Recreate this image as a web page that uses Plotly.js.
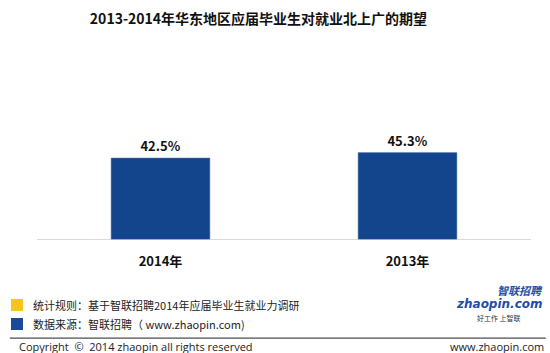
<!DOCTYPE html>
<html><head><meta charset="utf-8">
<script src="https://cdn.plot.ly/plotly-3.0.1.min.js"></script>
<style>html,body{margin:0;padding:0;background:#fff;}#chart{width:550px;height:353px;}</style>
</head><body><div id="chart"></div>
<script>
const categories = ["2014年", "2013年"];
const values = [42.5, 45.3];
const valueLabels = ["42.5%", "45.3%"];
const titleText = "2013-2014年华东地区应届毕业生对就业北上广的期望";
const noteLines = ["统计规则：基于智联招聘2014年应届毕业生就业力调研", "数据来源：智联招聘（ www.zhaopin.com)"];
const noteColors = ["#F5C518", "#1A4A99"];

const font = "'Noto Sans CJK SC', 'Microsoft YaHei', sans-serif";
const trace = {
  type: "bar", x: categories.map(c => "<b>" + c + "</b>"), y: values,
  text: valueLabels.map(t => "<b>" + t + "</b>"), textposition: "outside", cliponaxis: false,
  textfont: {family: font, size: 13, color: "#111"},
  marker: {color: "#12458C", line: {color: "#5b7fb8", width: 0.5}},
  hoverinfo: "none"
};
const shapes = [
  {type:"line", xref:"paper", yref:"y", x0:0, x1:1, y0:0, y1:0, line:{color:"#cccccc", width:1.5}},
  {type:"line", xref:"paper", yref:"paper", x0:-0.055, x1:1.03, y0:-0.545, y1:-0.545, line:{color:"#222", width:1}}
];
const annotations = [];
noteLines.forEach((t, i) => {
  const yy = 305 + i*19;
  shapes.push({type:"rect", xref:"paper", yref:"paper",
    x0:(11-37)/494, x1:(23-37)/494, y0:(240-(yy-6))/180, y1:(240-(yy+6))/180,
    fillcolor: noteColors[i], line:{width:0}});
  annotations.push({xref:"paper", yref:"paper", x:(31-37)/494, y:(240-yy)/180, xanchor:"left", yanchor:"middle",
    text:t, showarrow:false, font:{family:font, size:11, color:"#222"}});
});
annotations.push({xref:"paper", yref:"paper", x:(17-37)/494, y:(240-346)/180, xanchor:"left", yanchor:"middle",
  text:"Copyright  ©  2014 zhaopin all rights reserved", showarrow:false, font:{family:"'Open Sans', sans-serif", size:11, color:"#222"}});
annotations.push({xref:"paper", yref:"paper", x:(546-37)/494, y:(240-346)/180, xanchor:"right", yanchor:"middle",
  text:"www.zhaopin.com", showarrow:false, font:{family:"'Open Sans', sans-serif", size:11, color:"#222"}});
annotations.push({xref:"paper", yref:"paper", x:(545-37)/494, y:(240-290)/180, xanchor:"right", yanchor:"middle",
  text:"<b><i>智联招聘</i></b>", showarrow:false, font:{family:font, size:11, color:"#1f4fa3"}});
annotations.push({xref:"paper", yref:"paper", x:(545-37)/494, y:(240-304)/180, xanchor:"right", yanchor:"middle",
  text:"<b><i>zhaopin.com</i></b>", showarrow:false, font:{family:"'DejaVu Sans', sans-serif", size:12, color:"#1f4fa3"}});
annotations.push({xref:"paper", yref:"paper", x:(523-37)/494, y:(240-318)/180, xanchor:"right", yanchor:"middle",
  text:"好工作 上智联", showarrow:false, font:{family:font, size:7, color:"#333"}});

const layout = {
  width:550, height:353,
  margin:{l:37, r:19, t:60, b:113},
  paper_bgcolor:"#fff", plot_bgcolor:"#fff",
  title:{text:"<b>"+titleText+"</b>", x:0.47, xanchor:"center", y:0.945, yanchor:"middle", font:{family:font, size:14, color:"#111"}},
  xaxis:{showgrid:false, zeroline:false, showline:false, ticks:"", tickfont:{family:font, size:13, color:"#111"}, ticklabelstandoff:12},
  yaxis:{range:[0, 93.3], visible:false, showgrid:false, zeroline:false},
  bargap:0.6,
  showlegend:false,
  shapes:shapes, annotations:annotations
};
Plotly.newPlot("chart", [trace], layout, {displayModeBar:false, staticPlot:true});
</script></body></html>
